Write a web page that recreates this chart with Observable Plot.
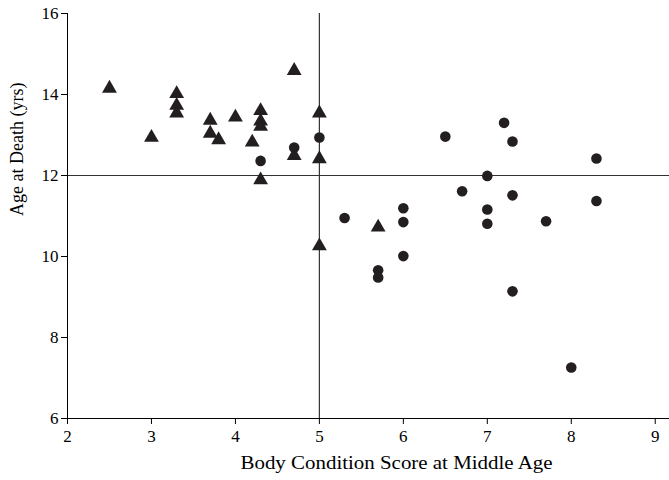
<!DOCTYPE html>
<html><head><meta charset="utf-8">
<script src="https://cdn.jsdelivr.net/npm/d3@7"></script>
<script src="https://cdn.jsdelivr.net/npm/@observablehq/plot@0.6"></script>
<style>body{margin:0;background:#fff}</style>
</head><body><div id="chart"></div>
<script>
// Triangles
const triX = [2.5, 3.0, 3.3, 3.3, 3.3, 3.7, 3.7, 3.8, 4.0, 4.2, 4.3, 4.3, 4.3, 4.3, 4.7, 4.7, 5.0, 5.0, 5.0, 5.7];
const triY = [14.15, 12.94, 14.02, 13.73, 13.54, 13.36, 13.04, 12.88, 13.44, 12.82, 13.6, 13.34, 13.21, 11.89, 14.59, 12.49, 13.54, 12.41, 10.26, 10.72];
// Circles
const cirX = [4.3, 4.7, 5.0, 5.3, 5.7, 5.7, 6.0, 6.0, 6.0, 6.5, 6.7, 7.0, 7.0, 7.0, 7.2, 7.3, 7.3, 7.3, 7.7, 8.0, 8.3, 8.3];
const cirY = [12.36, 12.69, 12.94, 10.95, 9.66, 9.48, 11.19, 10.85, 10.01, 12.96, 11.61, 11.99, 11.16, 10.81, 13.3, 12.84, 11.51, 9.14, 10.87, 7.26, 12.42, 11.37];
const xTicks = [2, 3, 4, 5, 6, 7, 8, 9];
const yTicks = [6, 8, 10, 12, 14, 16];
const xLabel = "Body Condition Score at Middle Age";
const yLabel = "Age at Death (yrs)";
const refX = [5];
const refY = [12];

const tri = triX.map((x, i) => ({x, y: triY[i]}));
const cir = cirX.map((x, i) => ({x, y: cirY[i]}));
const ink = "#231f20";

const chart = Plot.plot({
  width: 669,
  height: 480,
  marginLeft: 67,
  marginRight: 0,
  marginTop: 13,
  marginBottom: 62,
  style: {fontFamily: "'Liberation Serif', 'Times New Roman', serif", background: "#fff", color: "#000"},
  x: {domain: [2, 9.17]},
  y: {domain: [6, 16]},
  marks: [
    Plot.ruleX(refX, {stroke: "#333", strokeWidth: 1.2}),
    Plot.ruleY(refY, {stroke: "#333", strokeWidth: 1.2}),
    Plot.ruleX([2], {stroke: "#000", strokeWidth: 1}),
    Plot.ruleY([6], {stroke: "#000", strokeWidth: 1}),
    Plot.axisX({ticks: xTicks, tickSize: 6, tickPadding: 5, fontSize: 17, label: null, stroke: "#000"}),
    Plot.axisY({ticks: yTicks, tickSize: 6, tickPadding: 3, fontSize: 17, label: null, stroke: "#000"}),
    Plot.text([xLabel], {frameAnchor: "bottom", dx: 28, dy: 50, fontSize: 18, fill: "#000"}),
    Plot.text([yLabel], {frameAnchor: "left", dx: -50, rotate: -90, fontSize: 18, fill: "#000"}),
    Plot.dot(tri, {x: "x", y: "y", symbol: "triangle", r: 5.5, fill: ink, stroke: "none"}),
    Plot.dot(cir, {x: "x", y: "y", symbol: "circle", r: 5.3, fill: ink, stroke: "none"})
  ]
});
for (const t of chart.querySelectorAll("text")) {
  if (t.textContent === xLabel) {
    t.setAttribute("textLength", "312");
    t.setAttribute("lengthAdjust", "spacingAndGlyphs");
  }
}
document.getElementById("chart").appendChild(chart);
</script>
</body></html>
